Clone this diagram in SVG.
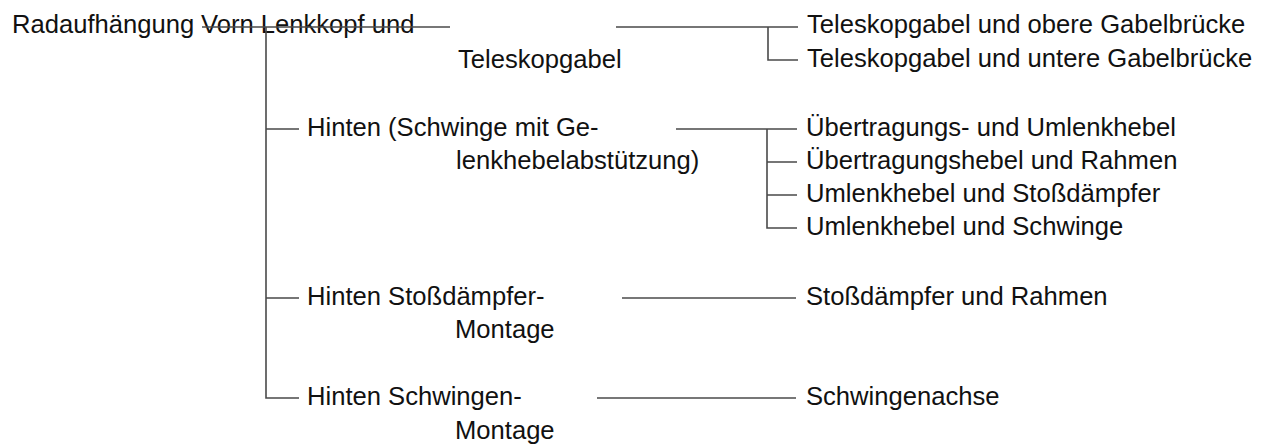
<svg xmlns="http://www.w3.org/2000/svg" width="1267" height="446" viewBox="0 0 1267 446">
<style>
text{font-family:"Liberation Sans",Arial,Helvetica,sans-serif;font-size:25.6px;fill:#111}
.c{fill:none;stroke:#4a4a4a;stroke-width:1.6}
</style>
<rect width="1267" height="446" fill="#fff"/>
<g id="root"><text x="12" y="33">Radaufhängung</text></g>
<g id="vorn"><text x="201" y="33">Vorn Lenkkopf und</text><text x="458" y="68">Teleskopgabel</text></g>
<g id="vorn-obere"><text x="807" y="33">Teleskopgabel und obere Gabelbrücke</text></g>
<g id="vorn-untere"><text x="807" y="67">Teleskopgabel und untere Gabelbrücke</text></g>
<g id="hinten-schwinge"><text x="307" y="136">Hinten (Schwinge mit Ge-</text><text x="456" y="169">lenkhebelabstützung)</text></g>
<g id="hs-1"><text x="806" y="136">Übertragungs- und Umlenkhebel</text></g>
<g id="hs-2"><text x="806" y="169">Übertragungshebel und Rahmen</text></g>
<g id="hs-3"><text x="806" y="202">Umlenkhebel und Stoßdämpfer</text></g>
<g id="hs-4"><text x="806" y="235">Umlenkhebel und Schwinge</text></g>
<g id="hinten-stoss"><text x="307" y="305">Hinten Stoßdämpfer-</text><text x="455" y="338">Montage</text></g>
<g id="stoss-1"><text x="806" y="305">Stoßdämpfer und Rahmen</text></g>
<g id="hinten-schwingen"><text x="307" y="405">Hinten Schwingen-</text><text x="455" y="439">Montage</text></g>
<g id="schwingen-1"><text x="806" y="405">Schwingenachse</text></g>
<g id="connectors">
<path class="c" d="M202,27H450"/>
<path class="c" d="M266,27V398H299M266,129H299M266,298H299"/>
<path class="c" d="M616,27H798M768,27V60H798"/>
<path class="c" d="M676,129H797M767,129V228H797M767,162H797M767,195H797"/>
<path class="c" d="M622,298H796"/>
<path class="c" d="M597,398H796"/>
</g>
</svg>
